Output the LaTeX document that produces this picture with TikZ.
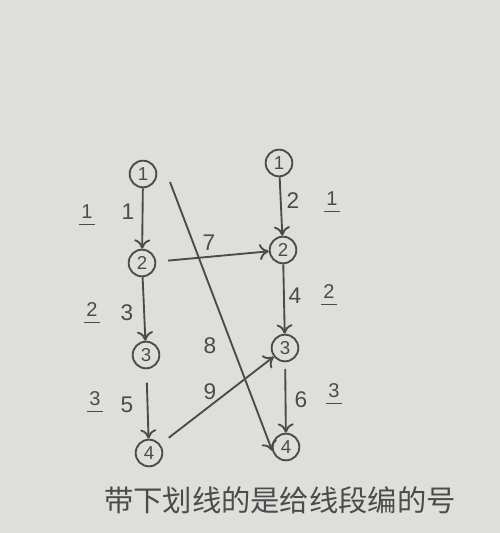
\documentclass[tikz,border=0pt]{standalone}
\usepackage{fontspec}
\setmainfont{Liberation Sans}
\newfontfamily\cjk{Noto Sans CJK SC}
\usetikzlibrary{arrows.meta}
\definecolor{paper}{RGB}{222,222,219}
\definecolor{pencil}{RGB}{75,75,75}
\newcommand\ulnum[1]{\begin{tabular}{@{}c@{}}#1\\[-10pt]\rule{12pt}{1.3pt}\end{tabular}}
\tikzset{
  vtx/.style={draw=pencil,line width=1.4pt,circle,inner sep=0pt,minimum size=20pt,text=pencil,font=\fontsize{14}{14}\selectfont},
  lbl/.style={text=pencil,font=\fontsize{17}{17}\selectfont},
  seg/.style={text=pencil,font=\fontsize{15}{15}\selectfont},
  edge/.style={draw=pencil,line width=1.4pt,-{To[length=7pt,width=12pt]}},
}

\begin{document}
\begin{tikzpicture}[x=0.75pt,y=0.75pt,yscale=-1,xscale=1]
              \fill[paper] (0,0) rectangle (500,533);
              \useasboundingbox (0,0) rectangle (500,533);
              % left column
              \node[vtx] (l1) at (143,174) {1};
              \node[vtx] (l2) at (142,263) {2};
              \node[vtx] (l3) at (146,355) {3};
              \node[vtx] (l4) at (149,453) {4};
              % right column
              \node[vtx] (r1) at (279,163) {1};
              \node[vtx] (r2) at (283,250) {2};
              \node[vtx] (r3) at (285,348) {3};
              \node[vtx] (r4) at (286,447) {4};
              \coordinate (p8) at (170,182);
              \draw[edge] (l1) -- (l2);
              \draw[edge] (l2) -- (l3);
              \draw[edge,shorten <=10pt] (l3) -- (l4);
              \draw[edge] (r1) -- (r2);
              \draw[edge] (r2) -- (r3);
              \draw[edge,shorten <=5pt] (r3) -- (r4);
              \draw[edge,shorten <=9pt] (l2) -- (r2);
              \draw[edge] (p8) -- (r4.195);
              \draw[edge,shorten <=8pt] (l4) -- (r3);
              % edge numbers
              \node[lbl] (e1) at (128,212) {1};
              \node[lbl] (e2) at (293,201) {2};
              \node[lbl] (e3) at (127,313) {3};
              \node[lbl] (e4) at (295,296) {4};
              \node[lbl] (e5) at (127,405) {5};
              \node[lbl] (e6) at (301,400) {6};
              \node[lbl] (e7) at (209,243) {7};
              \node[lbl] (e8) at (210,346) {8};
              \node[lbl] (e9) at (210,392) {9};
              % segment numbers
              \node[seg] (s1) at (87,218) {\ulnum{1}};
              \node[seg] (s2) at (92,316) {\ulnum{2}};
              \node[seg] (s3) at (95,405) {\ulnum{3}};
              \node[seg] (t1) at (332,205) {\ulnum{1}};
              \node[seg] (t2) at (329,298) {\ulnum{2}};
              \node[seg] (t3) at (334,397) {\ulnum{3}};
              \node[text=pencil,font=\cjk\fontsize{22}{22}\selectfont] (note) at (280,500) {带下划线的是给线段编的号};
            \end{tikzpicture}
\end{document}
